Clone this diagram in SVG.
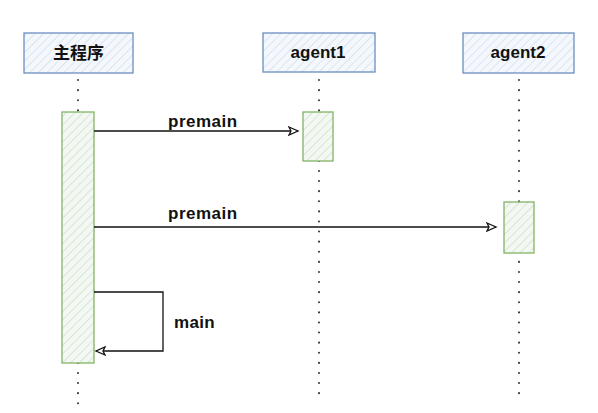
<svg xmlns="http://www.w3.org/2000/svg" width="598" height="413" viewBox="0 0 598 413">
<style>
.actor{fill:url(#hb);stroke:#6c8ebf;stroke-width:1.3}
.act{fill:url(#hg);stroke:#82b366;stroke-width:1.3}
.life{stroke:#333;stroke-width:2;stroke-dasharray:0.1 10;stroke-linecap:round;fill:none}
.msg{stroke:#111;stroke-width:1.3;fill:none}
.t{font-family:"Liberation Sans","Noto Sans CJK SC",sans-serif;font-weight:bold;font-size:17px;fill:#111}
</style>
<defs>
<pattern id="hb" patternUnits="userSpaceOnUse" width="6" height="6" patternTransform="rotate(45)">
<rect width="6" height="6" fill="#f4f8fd"/>
<line x1="0" y1="0" x2="0" y2="6" stroke="#c9d7ea" stroke-width="1.2"/>
</pattern>
<pattern id="hg" patternUnits="userSpaceOnUse" width="6" height="6" patternTransform="rotate(45)">
<rect width="6" height="6" fill="#f3f8f2"/>
<line x1="0" y1="0" x2="0" y2="6" stroke="#c4dcc1" stroke-width="1.2"/>
</pattern>
<marker id="arr" markerWidth="12" markerHeight="10" refX="10" refY="5" orient="auto" markerUnits="userSpaceOnUse">
<path d="M1,1 L10,5 L1,9 L3,5 Z" fill="#fff" stroke="#111" stroke-width="1.3"/>
</marker>
</defs>
<g id="lifelines">
<line class="life" x1="78" y1="80" x2="78" y2="405"/>
<line class="life" x1="319" y1="80" x2="319" y2="395"/>
<line class="life" x1="519" y1="80" x2="519" y2="395"/>
</g>
<g id="main">
<rect class="actor" x="24" y="33" width="109" height="40"/>
<text class="t" x="78.5" y="59" text-anchor="middle">主程序</text>
</g>
<g id="agent1">
<rect class="actor" x="263" y="33" width="112" height="39"/>
<text class="t" x="318" y="58" text-anchor="middle">agent1</text>
</g>
<g id="agent2">
<rect class="actor" x="463" y="33" width="111" height="40"/>
<text class="t" x="518" y="58" text-anchor="middle">agent2</text>
</g>
<g id="main-activation">
<rect class="act" x="62" y="112" width="32" height="251"/>
</g>
<g id="agent1-activation">
<rect class="act" x="303" y="112" width="30" height="49"/>
</g>
<g id="agent2-activation">
<rect class="act" x="504" y="202" width="30" height="51"/>
</g>
<g id="connectors">
<line class="msg" x1="94" y1="131" x2="298" y2="131" marker-end="url(#arr)"/>
<line class="msg" x1="94" y1="227" x2="496" y2="227" marker-end="url(#arr)"/>
<polyline class="msg" points="94,292 163,292 163,351 96,351" marker-end="url(#arr)"/>
<text class="t" x="168" y="127" letter-spacing="0.5">premain</text>
<text class="t" x="168" y="219" letter-spacing="0.5">premain</text>
<text class="t" x="174" y="328" letter-spacing="0.3">main</text>
</g>
</svg>
